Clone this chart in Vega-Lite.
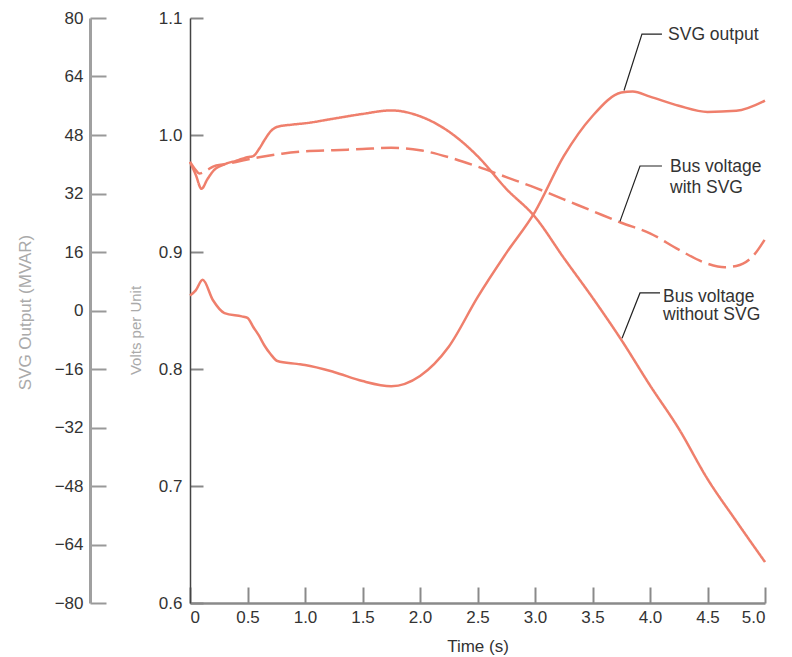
{
  "$schema": "https://vega.github.io/schema/vega-lite/v6.json",
  "width": 575,
  "height": 585,
  "autosize": {"type": "none"},
  "padding": {"left": 190, "top": 18, "right": 27, "bottom": 54},
  "background": "white",
  "config": {
    "view": {"stroke": null},
    "font": "Liberation Sans",
    "axis": {"grid": false, "labelFont": "Liberation Sans", "titleFont": "Liberation Sans", "titleFontWeight": "normal"}
  },
  "datasets": {
    "volts": [
      {"series": "without", "t": 0, "v": 0.977},
      {"series": "without", "t": 0.05, "v": 0.966},
      {"series": "without", "t": 0.1, "v": 0.954},
      {"series": "without", "t": 0.15, "v": 0.962},
      {"series": "without", "t": 0.2, "v": 0.969},
      {"series": "without", "t": 0.3, "v": 0.975},
      {"series": "without", "t": 0.4, "v": 0.978},
      {"series": "without", "t": 0.5, "v": 0.981},
      {"series": "without", "t": 0.55, "v": 0.982},
      {"series": "without", "t": 0.6, "v": 0.988},
      {"series": "without", "t": 0.65, "v": 0.996},
      {"series": "without", "t": 0.7, "v": 1.003},
      {"series": "without", "t": 0.76, "v": 1.007},
      {"series": "without", "t": 0.9, "v": 1.009},
      {"series": "without", "t": 1.0, "v": 1.010},
      {"series": "without", "t": 1.25, "v": 1.014},
      {"series": "without", "t": 1.5, "v": 1.018},
      {"series": "without", "t": 1.75, "v": 1.021},
      {"series": "without", "t": 2.0, "v": 1.016},
      {"series": "without", "t": 2.25, "v": 1.003},
      {"series": "without", "t": 2.5, "v": 0.982},
      {"series": "without", "t": 2.75, "v": 0.954},
      {"series": "without", "t": 3.0, "v": 0.930},
      {"series": "without", "t": 3.25, "v": 0.895},
      {"series": "without", "t": 3.5, "v": 0.861},
      {"series": "without", "t": 3.75, "v": 0.825},
      {"series": "without", "t": 4.0, "v": 0.786},
      {"series": "without", "t": 4.25, "v": 0.749},
      {"series": "without", "t": 4.5, "v": 0.706},
      {"series": "without", "t": 4.75, "v": 0.670},
      {"series": "without", "t": 5.0, "v": 0.635},
      {"series": "with", "t": 0, "v": 0.977},
      {"series": "with", "t": 0.05, "v": 0.970},
      {"series": "with", "t": 0.08, "v": 0.967},
      {"series": "with", "t": 0.15, "v": 0.970},
      {"series": "with", "t": 0.2, "v": 0.973},
      {"series": "with", "t": 0.3, "v": 0.975},
      {"series": "with", "t": 0.4, "v": 0.977},
      {"series": "with", "t": 0.6, "v": 0.981},
      {"series": "with", "t": 0.8, "v": 0.984},
      {"series": "with", "t": 1.0, "v": 0.986},
      {"series": "with", "t": 1.25, "v": 0.987},
      {"series": "with", "t": 1.5, "v": 0.988},
      {"series": "with", "t": 1.75, "v": 0.989},
      {"series": "with", "t": 2.0, "v": 0.987},
      {"series": "with", "t": 2.25, "v": 0.981},
      {"series": "with", "t": 2.5, "v": 0.973},
      {"series": "with", "t": 2.75, "v": 0.964},
      {"series": "with", "t": 3.0, "v": 0.955},
      {"series": "with", "t": 3.25, "v": 0.945},
      {"series": "with", "t": 3.5, "v": 0.935},
      {"series": "with", "t": 3.75, "v": 0.925},
      {"series": "with", "t": 4.0, "v": 0.916},
      {"series": "with", "t": 4.25, "v": 0.902},
      {"series": "with", "t": 4.5, "v": 0.890},
      {"series": "with", "t": 4.65, "v": 0.887},
      {"series": "with", "t": 4.75, "v": 0.888},
      {"series": "with", "t": 4.9, "v": 0.897},
      {"series": "with", "t": 5.0, "v": 0.911}
    ],
    "svg": [
      {"t": 0, "mvar": 4.1},
      {"t": 0.05, "mvar": 5.5},
      {"t": 0.11, "mvar": 8.4},
      {"t": 0.2, "mvar": 2.8},
      {"t": 0.3, "mvar": -0.7},
      {"t": 0.45, "mvar": -1.6},
      {"t": 0.5, "mvar": -2.0},
      {"t": 0.55, "mvar": -4.5},
      {"t": 0.6, "mvar": -6.9},
      {"t": 0.65, "mvar": -9.7},
      {"t": 0.7, "mvar": -11.9},
      {"t": 0.76, "mvar": -13.8},
      {"t": 0.93, "mvar": -14.6},
      {"t": 1.0, "mvar": -14.9},
      {"t": 1.25, "mvar": -16.8},
      {"t": 1.5, "mvar": -19.3},
      {"t": 1.75, "mvar": -20.7},
      {"t": 2.0, "mvar": -17.9},
      {"t": 2.25, "mvar": -9.9},
      {"t": 2.5, "mvar": 3.6},
      {"t": 2.75, "mvar": 15.7},
      {"t": 3.0, "mvar": 27.0},
      {"t": 3.25, "mvar": 42.2},
      {"t": 3.5, "mvar": 53.2},
      {"t": 3.75, "mvar": 59.6},
      {"t": 3.85, "mvar": 59.9},
      {"t": 4.0, "mvar": 58.5},
      {"t": 4.25, "mvar": 56.0},
      {"t": 4.5, "mvar": 54.3},
      {"t": 4.75, "mvar": 54.6},
      {"t": 5.0, "mvar": 57.4}
    ],
    "leaders": [
      {"id": "a", "seq": 1, "t": 4.104, "v": 1.0862},
      {"id": "a", "seq": 2, "t": 3.93, "v": 1.0862},
      {"id": "a", "seq": 3, "t": 3.774, "v": 1.038},
      {"id": "b", "seq": 1, "t": 4.104, "v": 0.9735},
      {"id": "b", "seq": 2, "t": 3.913, "v": 0.9735},
      {"id": "b", "seq": 3, "t": 3.739, "v": 0.9262},
      {"id": "c", "seq": 1, "t": 4.087, "v": 0.865},
      {"id": "c", "seq": 2, "t": 3.913, "v": 0.865},
      {"id": "c", "seq": 3, "t": 3.757, "v": 0.8263}
    ],
    "labels": [
      {"text": "SVG output", "t": 4.157, "v": 1.0854},
      {"text": "Bus voltage", "t": 4.174, "v": 0.9726},
      {"text": "with SVG", "t": 4.174, "v": 0.9546},
      {"text": "Bus voltage", "t": 4.113, "v": 0.8617},
      {"text": "without SVG", "t": 4.113, "v": 0.8462}
    ]
  },
  "layer": [
    {
      "data": {"name": "volts"},
      "mark": {"type": "line", "interpolate": "monotone", "strokeWidth": 2.5, "color": "#EF7F6C"},
      "encoding": {
        "x": {
          "field": "t", "type": "quantitative",
          "scale": {"domain": [0, 5], "nice": false},
          "axis": {
            "values": [0, 0.5, 1, 1.5, 2, 2.5, 3, 3.5, 4, 4.5, 5],
            "labelExpr": "datum.value === 0 ? '0' : format(datum.value, '.1f')",
            "tickSize": -16, "tickColor": "#8a8a8a", "tickWidth": 2,
            "domainColor": "#8a8a8a", "domainWidth": 2.5,
            "labelFontSize": 17, "labelColor": "#333333", "labelPadding": 22,
            "title": "Time (s)", "titleFontSize": 17, "titleColor": "#333333",
            "titleY": 43, "titleBaseline": "middle"
          }
        },
        "y": {
          "field": "v", "type": "quantitative",
          "scale": {"domain": [0.6, 1.1], "nice": false, "zero": false},
          "axis": {
            "orient": "left",
            "values": [0.6, 0.7, 0.8, 0.9, 1.0, 1.1],
            "format": ".1f",
            "tickSize": -13, "tickColor": "#888888", "tickWidth": 2,
            "domainColor": "#444444", "domainWidth": 1.5,
            "labelFontSize": 17, "labelColor": "#333333", "labelPadding": 21,
            "title": "Volts per Unit", "titleFontSize": 15, "titleColor": "#aaaaaa",
            "titleX": -55, "titleY": 312, "titleAngle": 270, "titleBaseline": "middle", "titleAlign": "center"
          }
        },
        "strokeDash": {
          "field": "series", "type": "nominal",
          "scale": {"domain": ["with", "without"], "range": [[18, 7], [1, 0]]},
          "legend": null
        }
      }
    },
    {
      "data": {"name": "svg"},
      "mark": {"type": "line", "interpolate": "monotone", "strokeWidth": 2.5, "color": "#EF7F6C"},
      "encoding": {
        "x": {"field": "t", "type": "quantitative"},
        "y": {
          "field": "mvar", "type": "quantitative",
          "scale": {"domain": [-80, 80], "nice": false, "zero": false},
          "axis": {
            "orient": "left", "offset": 100,
            "values": [-80, -64, -48, -32, -16, 0, 16, 32, 48, 64, 80],
            "tickSize": -16, "tickColor": "#999999", "tickWidth": 2,
            "domainColor": "#a0a0a0", "domainWidth": 3,
            "labelFontSize": 17, "labelColor": "#333333", "labelPadding": 23,
            "title": "SVG Output (MVAR)", "titleFontSize": 17, "titleColor": "#aaaaaa",
            "titleX": -65, "titleY": 294, "titleAngle": 270, "titleBaseline": "middle", "titleAlign": "center"
          }
        }
      }
    },
    {
      "data": {"name": "leaders"},
      "mark": {"type": "line", "strokeWidth": 1.2, "color": "#222222"},
      "encoding": {
        "x": {"field": "t", "type": "quantitative"},
        "y": {"field": "v", "type": "quantitative", "scale": {"domain": [0.6, 1.1], "nice": false, "zero": false}, "axis": null},
        "detail": {"field": "id", "type": "nominal"},
        "order": {"field": "seq", "type": "quantitative"}
      }
    },
    {
      "data": {"name": "labels"},
      "mark": {"type": "text", "align": "left", "baseline": "middle", "fontSize": 17.5, "color": "#333333", "font": "Liberation Sans"},
      "encoding": {
        "x": {"field": "t", "type": "quantitative"},
        "y": {"field": "v", "type": "quantitative", "scale": {"domain": [0.6, 1.1], "nice": false, "zero": false}, "axis": null},
        "text": {"field": "text", "type": "nominal"}
      }
    }
  ],
  "resolve": {"scale": {"y": "independent"}}
}
